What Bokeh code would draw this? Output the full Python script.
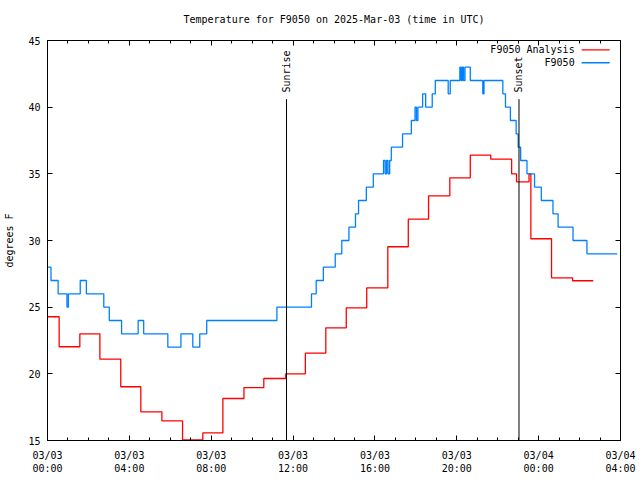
import math
from bokeh.plotting import figure
from bokeh.models import FixedTicker, LinearAxis, CustomLabelingPolicy
from bokeh.core.properties import value
from bokeh.embed import file_html
from bokeh.resources import INLINE

FONT = "DejaVu Sans Mono"
RED = "#ff0000"
BLUE = "#0080ff"

# ---- data (time in hours since 2025-03-03 00:00 UTC) ----
analysis_t = [0.0, 0.57, 1.58, 2.56, 3.58, 4.56, 5.59, 6.6, 7.59, 8.57, 9.6, 10.57,
              11.64, 12.6, 13.6, 14.6, 15.6, 16.63, 17.63, 18.62, 19.66, 20.66, 21.66,
              22.68, 22.92, 23.53, 23.62, 24.63, 25.66]
analysis_v = [24.28, 22.03, 23.0, 21.1, 19.03, 17.15, 16.47, 15.05, 15.57, 18.15, 18.97, 19.65,
              20.0, 21.55, 23.45, 24.95, 26.45, 29.53, 31.6, 33.35, 34.7, 36.4, 36.1,
              35.0, 34.4, 35.0, 30.13, 27.2, 26.98]
analysis_end = 26.67

obs_t = [0.0, 0.17, 0.52, 0.95, 1.02, 1.6, 1.9, 2.75, 3.02, 3.62, 4.43, 4.7, 5.88, 6.52,
         7.1, 7.44, 7.78, 11.21, 12.9, 13.13, 13.48, 14.06, 14.38, 14.73, 15.05, 15.2,
         15.58, 15.92, 16.42, 16.5, 16.57, 16.64, 16.72, 16.8, 17.35, 17.78, 17.96, 18.03,
         18.1, 18.33, 18.48, 18.8, 18.95, 19.58, 19.68, 20.15, 20.21, 20.27, 20.33, 20.4,
         20.66, 21.27, 21.33, 22.25, 22.38, 22.62, 22.9, 23.0, 23.12, 23.43, 23.8, 24.13,
         24.7, 24.95, 25.68, 26.36]
obs_v = [28, 27, 26, 25, 26, 27, 26, 25, 24, 23, 24, 23, 22, 23,
         22, 23, 24, 25, 26, 27, 28, 29, 30, 31, 32, 33,
         34, 35, 36, 35, 36, 35, 36, 37, 38, 39, 40, 39,
         40, 41, 40, 41, 42, 41, 42, 43, 42, 43, 42, 43,
         42, 41, 42, 41, 40, 39, 38, 37, 36, 35, 34, 33,
         32, 31, 30, 29]
obs_end = 27.84

series_names = ["F9050 Analysis", "F9050"]
event_names = ["Sunrise", "Sunset"]
event_t = [11.68, 23.04]

x_ticks = [0, 4, 8, 12, 16, 20, 24, 28]
x_tick_labels = ["03/03\n00:00", "03/03\n04:00", "03/03\n08:00", "03/03\n12:00",
                 "03/03\n16:00", "03/03\n20:00", "03/04\n00:00", "03/04\n04:00"]
y_ticks = [15, 20, 25, 30, 35, 40, 45]

# ---- figure ----
p = figure(frame_width=573, frame_height=400, x_range=(0, 28), y_range=(15, 45),
           output_backend="svg", toolbar_location=None,
           min_border_left=47, min_border_right=20, min_border_top=40, min_border_bottom=40,
           title="Temperature for F9050 on 2025-Mar-03 (time in UTC)",
           background_fill_color="white", border_fill_color="white")
p.grid.visible = False
p.outline_line_color = "black"
p.outline_line_width = 1
p.title.text_font = FONT
p.title.text_font_size = "10px"
p.title.text_font_style = "normal"
p.title.align = "center"
p.title.text_color = "black"
p.title.standoff = 10

NO_LABELS = "for (const i of indices) { if (i < 0) yield i }"


def style_axis(ax, show_labels=True):
    ax.axis_line_color = "black"
    ax.major_tick_in = 5
    ax.major_tick_out = 0
    ax.minor_tick_in = 3
    ax.minor_tick_out = 0
    ax.major_tick_line_color = "black"
    ax.minor_tick_line_color = "black"
    ax.major_label_text_font = FONT
    ax.major_label_text_color = "black"
    ax.major_label_text_font_size = "10px"
    if not show_labels:
        ax.major_label_policy = CustomLabelingPolicy(code=NO_LABELS)
        ax.major_label_standoff = 0


xa = p.xaxis[0]
xa.ticker = FixedTicker(ticks=x_ticks, minor_ticks=list(range(0, 29)))
xa.major_label_overrides = {t: l for t, l in zip(x_ticks, x_tick_labels)}
style_axis(xa)
xa.major_label_standoff = 9

ya = p.yaxis[0]
ya.ticker = FixedTicker(ticks=y_ticks, minor_ticks=[])
style_axis(ya)
ya.major_label_standoff = 7
ya.axis_label = "degrees F"
ya.axis_label_text_font = FONT
ya.axis_label_text_font_size = "10px"
ya.axis_label_text_font_style = "normal"
ya.axis_label_text_color = "black"
ya.axis_label_standoff = 10

top = LinearAxis(ticker=FixedTicker(ticks=x_ticks, minor_ticks=list(range(0, 29))))
style_axis(top, False)
p.add_layout(top, "above")
right = LinearAxis(ticker=FixedTicker(ticks=y_ticks, minor_ticks=[]))
style_axis(right, False)
p.add_layout(right, "right")

# ---- series ----
p.step(x=analysis_t + [analysis_end], y=analysis_v + [analysis_v[-1]], mode="after",
       line_color=RED, line_width=1.3)
p.step(x=obs_t + [obs_end], y=obs_v + [obs_v[-1]], mode="after",
       line_color=BLUE, line_width=1.3)

# ---- sunrise / sunset ----
EVENT_TOP = 40.6
EVENT_LABEL_Y = 41.1
p.segment(x0=event_t, y0=[15] * len(event_t), x1=event_t, y1=[EVENT_TOP] * len(event_t),
          line_color="black", line_width=1)
p.text(x=event_t, y=[EVENT_LABEL_Y] * len(event_t), text=event_names, angle=math.pi / 2,
       text_align="left", text_baseline="middle", text_font=value(FONT),
       text_font_size="10px", text_color="black")

# ---- legend (gnuplot style: label then sample) ----
LEG_TEXT_X = 25.76
LEG_X0, LEG_X1 = 26.1, 27.47
LEG_Y = [44.3, 43.33]
p.text(x=[LEG_TEXT_X] * 2, y=LEG_Y, text=series_names, text_align="right",
       text_baseline="middle", text_font=value(FONT), text_font_size="10px",
       text_color="black")
p.segment(x0=[LEG_X0] * 2, y0=LEG_Y, x1=[LEG_X1] * 2, y1=LEG_Y,
          line_color=[RED, BLUE], line_width=1.3)

open("out.html", "w").write(file_html(p, INLINE))
